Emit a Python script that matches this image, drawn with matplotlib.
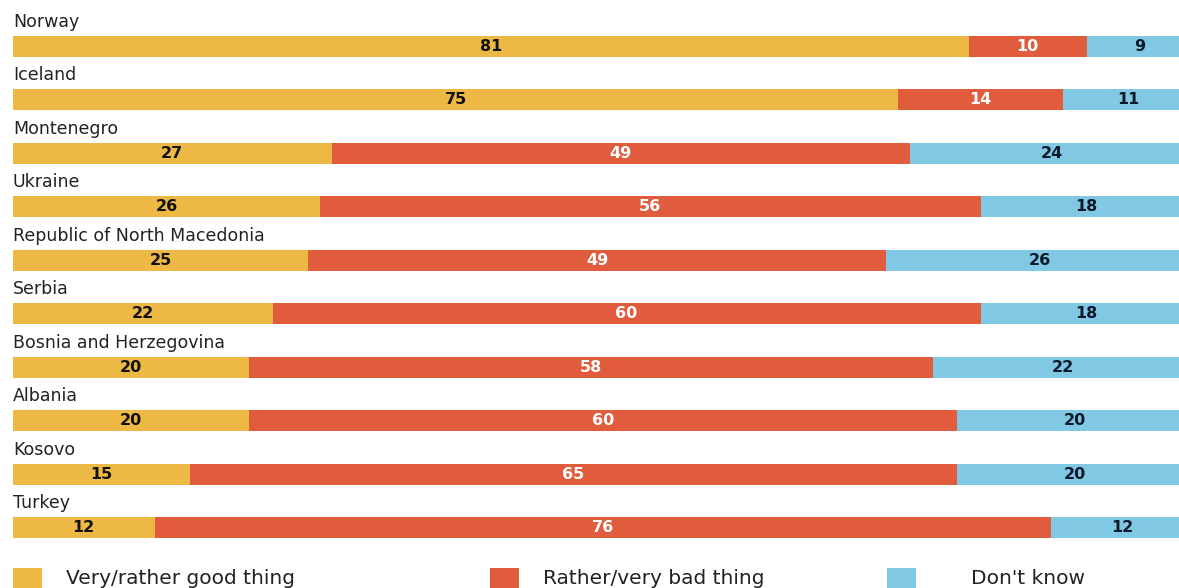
import matplotlib
matplotlib.use("Agg")
import matplotlib.pyplot as plt
from matplotlib.patches import Rectangle

countries = ["Norway", "Iceland", "Montenegro", "Ukraine", "Republic of North Macedonia",
             "Serbia", "Bosnia and Herzegovina", "Albania", "Kosovo", "Turkey"]
good = [81, 75, 27, 26, 25, 22, 20, 20, 15, 12]
bad = [10, 14, 49, 56, 49, 60, 58, 60, 65, 76]
dont_know = [9, 11, 24, 18, 26, 18, 22, 20, 20, 12]
series_names = ["Very/rather good thing", "Rather/very bad thing", "Don't know"]

colors = ["#EDB843", "#E05C3C", "#80C8E4"]
text_colors = ["#111111", "#FFFFFF", "#0B1A2A"]

W, H = 1179, 588
fig = plt.figure(figsize=(W / 100, H / 100), dpi=100)
fig.patch.set_facecolor("white")
ax = fig.add_axes([13 / W, 0, 1180 / W, 1])
ax.set_xlim(0, 100)
first_px, step_px = 46.5, 53.45
ax.set_ylim((H - first_px) / step_px, -first_px / step_px)
ax.axis("off")

bar_h = 21 / step_px
series = [good, bad, dont_know]
for i, c in enumerate(countries):
    left = 0
    for s, vals in enumerate(series):
        v = vals[i]
        ax.barh(i, v, left=left, height=bar_h, color=colors[s], linewidth=0)
        ax.text(left + v / 2, i, str(v), ha="center", va="center",
                fontsize=11.5, fontweight="heavy", color=text_colors[s],
                family="DejaVu Sans")
        left += v
    ax.text(0, i - 24.5 / step_px, c, ha="left", va="center", fontsize=12.5,
            color="#222222", family="DejaVu Sans")

# legend
leg_x = [13, 490, 887]
text_x = [66, 543, 971]
for k, name in enumerate(series_names):
    fig.patches.append(Rectangle((leg_x[k] / W, 0), 29 / W, (H - 568) / H,
                                 transform=fig.transFigure, color=colors[k],
                                 linewidth=0))
    fig.text(text_x[k] / W, 1 - 578 / H, name, ha="left", va="center",
             fontsize=14.5, color="#222222", family="DejaVu Sans")

fig.savefig("out.png", dpi=100)
